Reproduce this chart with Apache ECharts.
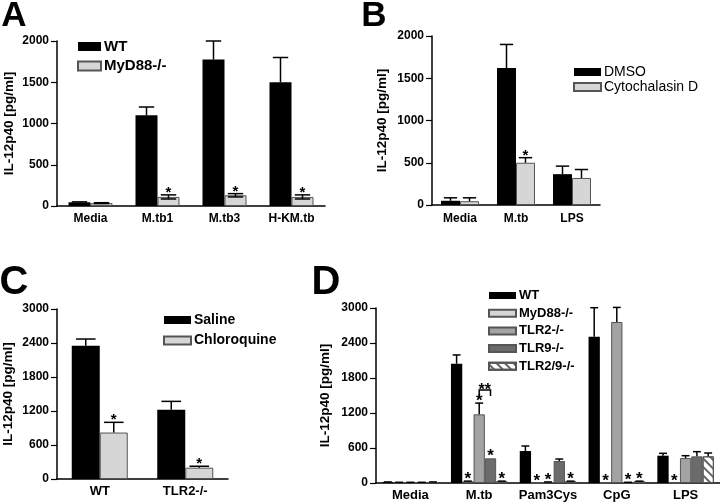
<!DOCTYPE html>
<html><head><meta charset="utf-8">
<script src="https://cdn.jsdelivr.net/npm/echarts@6/dist/echarts.min.js"></script>
<style>html,body{margin:0;padding:0;background:#fff}#c{width:720px;height:502px}</style>
</head><body><div id="c"></div><script>
// ---------- Panel A ----------
const catA = ['Media', 'M.tb1', 'M.tb3', 'H-KM.tb'];
const wtA = [45, 1100, 1775, 1500];
const wtA_err = [50, 1200, 2000, 1800];
const myA = [35, 110, 130, 110];
const myA_err = [40, 135, 150, 135];
const sigA = ['', '*', '*', '*'];
const ticksA = {min: 0, max: 2000, interval: 500};

// ---------- Panel B ----------
const catB = ['Media', 'M.tb', 'LPS'];
const dmsoB = [50, 1620, 365];
const dmsoB_err = [85, 1900, 460];
const cytoB = [45, 500, 320];
const cytoB_err = [85, 560, 420];
const sigB = ['', '*', ''];
const ticksB = {min: 0, max: 2000, interval: 500};

// ---------- Panel C ----------
const catC = ['WT', 'TLR2-/-'];
const salC = [2350, 1220];
const salC_err = [2470, 1370];
const chlC = [820, 200];
const chlC_err = [1000, 225];
const sigC = ['*', '*'];
const ticksC = {min: 0, max: 3000, interval: 600};

// ---------- Panel D ----------
const catD = ['Media', 'M.tb', 'Pam3Cys', 'CpG', 'LPS'];
const wtD = [15, 2045, 548, 2508, 468];
const wtD_err = [18, 2195, 634, 3005, 509];
const myD = [10, 30, 0, 0, 0];
const myD_err = [12, 32, 0, 0, 0];
const sigMyD = ['', '*', '*', '*', '*'];
const tlr2D = [10, 1177, 15, 2760, 428];
const tlr2D_err = [12, 1370, 18, 3010, 468];
const sigTlr2D = ['', '*', '*', '', ''];
const tlr9D = [10, 423, 377, 10, 457];
const tlr9D_err = [12, 423, 411, 12, 537];
const sigTlr9D = ['', '*', '', '*', ''];
const tlr29D = [15, 30, 30, 30, 457];
const tlr29D_err = [18, 32, 32, 32, 514];
const sigTlr29D = ['', '*', '*', '*', ''];
const bracketD = {category: 1, value: 1594, label: '**'};
const ticksD = {min: 0, max: 3000, interval: 600};

const FONT = "'Liberation Sans', Arial, sans-serif";
const BLACK = '#000000';
const LIGHT = '#d6d6d6';
const MID = '#a3a3a3';
const DARK = '#6b6b6b';

function xAx(gi, data, fs, margin) {
  return {type: 'category', gridIndex: gi, data: data,
    axisTick: {show: false},
    axisLine: {lineStyle: {color: '#000', width: 1.5}},
    axisLabel: {interval: 0, color: '#000', fontWeight: 'bold', fontSize: fs, fontFamily: FONT, margin: margin}};
}
function yAx(gi, t, gap) {
  return {type: 'value', gridIndex: gi, min: t.min, max: t.max, interval: t.interval,
    splitLine: {show: false},
    axisLine: {show: true, lineStyle: {color: '#000', width: 1.5}},
    axisTick: {show: true, length: 6, lineStyle: {color: '#000', width: 1.2}},
    axisLabel: {color: '#000', fontWeight: 'bold', fontSize: 12, fontFamily: FONT, margin: 8,
      formatter: function (v) { return String(v); }},
    name: 'IL-12p40 [pg/ml]', nameLocation: 'middle', nameGap: gap,
    nameTextStyle: {color: '#000', fontWeight: 'bold', fontSize: 13.5, fontFamily: FONT}};
}
function bar(gi, name, data, color, bw, extra) {
  const s = {type: 'bar', name: name, xAxisIndex: gi, yAxisIndex: gi, data: data,
    barWidth: bw, barGap: '0%', silent: true,
    itemStyle: {color: color, borderColor: color === BLACK ? '#000' : '#555', borderWidth: color === BLACK ? 0 : 1}};
  if (extra) Object.assign(s.itemStyle, extra);
  return s;
}
function err(gi, vals, errs, sig, k, n, bw, both, starSize) {
  return {type: 'custom', xAxisIndex: gi, yAxisIndex: gi, z: 10, silent: true,
    data: vals.map((v, i) => [i, v, errs[i]]),
    encode: {x: 0, y: [1, 2]},
    renderItem: function (params, api) {
      const i = api.value(0);
      const off = (k - (n - 1) / 2) * bw;
      const pv = api.coord([i, api.value(1)]);
      const pe = api.coord([i, api.value(2)]);
      const x = pv[0] + off;
      const cap = Math.max(3, bw * 0.35);
      const ch = [];
      const st = {stroke: '#000', lineWidth: 1.5};
      if (api.value(2) > api.value(1)) {
        let yLow = pv[1];
        if (both) {
          yLow = pv[1] + (pv[1] - pe[1]);
          ch.push({type: 'line', shape: {x1: x - cap, y1: yLow, x2: x + cap, y2: yLow}, style: st});
        }
        ch.push({type: 'line', shape: {x1: x, y1: yLow, x2: x, y2: pe[1]}, style: st});
        ch.push({type: 'line', shape: {x1: x - cap, y1: pe[1], x2: x + cap, y2: pe[1]}, style: st});
      }
      const s = sig[params.dataIndex];
      if (s) {
        ch.push({type: 'text', x: x, y: pe[1] - 2, style: {text: s, fill: '#000',
          font: 'bold ' + starSize + 'px ' + FONT, align: 'center', verticalAlign: 'middle'}});
      }
      return {type: 'group', children: ch};
    }};
}
function bracket(gi, br, k1, k2, n, bw) {
  return {type: 'custom', xAxisIndex: gi, yAxisIndex: gi, z: 11, silent: true,
    data: [[br.category, br.value]],
    renderItem: function (params, api) {
      const p = api.coord([api.value(0), api.value(1)]);
      const x1 = p[0] + (k1 - (n - 1) / 2) * bw;
      const x2 = p[0] + (k2 - (n - 1) / 2) * bw;
      return {type: 'group', children: [
        {type: 'polyline', shape: {points: [[x1, p[1] + 6], [x1, p[1]], [x2, p[1]], [x2, p[1] + 6]]},
          style: {stroke: '#000', lineWidth: 1.5, fill: null}},
        {type: 'text', x: (x1 + x2) / 2, y: p[1] + 1, style: {text: br.label, fill: '#000',
          font: 'bold 16px ' + FONT, align: 'center', verticalAlign: 'middle'}}
      ]};
    }};
}

const bwA = 22, bwB = 19, bwC = 28, bwD = 11.3;
const hatch = {symbol: 'rect', dashArrayX: [1, 0], dashArrayY: [1.5, 3.5], rotation: Math.PI / 4, color: '#666', symbolSize: 1};

const series = [
  bar(0, 'WT', wtA, BLACK, bwA),
  bar(0, 'MyD88-/-', myA, LIGHT, bwA),
  err(0, wtA, wtA_err, ['', '', '', ''], 0, 2, bwA, false, 15),
  err(0, myA, myA_err, sigA, 1, 2, bwA, true, 15),

  bar(1, 'DMSO', dmsoB, BLACK, bwB),
  bar(1, 'Cytochalasin D', cytoB, LIGHT, bwB),
  err(1, dmsoB, dmsoB_err, ['', '', ''], 0, 2, bwB, false, 15),
  err(1, cytoB, cytoB_err, sigB, 1, 2, bwB, false, 15),

  bar(2, 'Saline', salC, BLACK, bwC),
  bar(2, 'Chloroquine', chlC, LIGHT, bwC),
  err(2, salC, salC_err, ['', ''], 0, 2, bwC, false, 15),
  err(2, chlC, chlC_err, sigC, 1, 2, bwC, false, 15),

  bar(3, 'WT', wtD, BLACK, bwD),
  bar(3, 'MyD88-/-', myD, LIGHT, bwD),
  bar(3, 'TLR2-/-', tlr2D, MID, bwD),
  bar(3, 'TLR9-/-', tlr9D, DARK, bwD),
  bar(3, 'TLR2/9-/-', tlr29D, '#ffffff', bwD, {decal: hatch}),
  err(3, wtD, wtD_err, ['', '', '', '', ''], 0, 5, bwD, false, 17),
  err(3, myD, myD_err, sigMyD, 1, 5, bwD, false, 17),
  err(3, tlr2D, tlr2D_err, sigTlr2D, 2, 5, bwD, false, 17),
  err(3, tlr9D, tlr9D_err, sigTlr9D, 3, 5, bwD, false, 17),
  err(3, tlr29D, tlr29D_err, sigTlr29D, 4, 5, bwD, false, 17),
  bracket(3, bracketD, 2, 3, 5, bwD)
];

function leg(left, top, names, iw, ih, gap, fs, fw) {
  return {left: left, top: top, orient: 'vertical', padding: 0, itemWidth: iw, itemHeight: ih, itemGap: gap,
    icon: 'rect', selectedMode: false, data: names,
    textStyle: {color: '#000', fontSize: fs, fontWeight: fw, fontFamily: FONT, padding: [0, 0, 0, -2]}};
}

const option = {
  animation: false,
  backgroundColor: '#fff',
  grid: [
    {left: 57, right: 395, top: 41, bottom: 296},
    {left: 432, right: 120, top: 36, bottom: 297},
    {left: 57, right: 492, top: 309, bottom: 23},
    {left: 376, right: 0, top: 308, bottom: 18}
  ],
  xAxis: [xAx(0, catA, 12, 7), xAx(1, catB, 12, 8), xAx(2, catC, 13, 6), xAx(3, catD, 13, 6)],
  yAxis: [yAx(0, ticksA, 41), yAx(1, ticksB, 43), yAx(2, ticksC, 42), yAx(3, ticksD, 44)],
  legend: [
    leg(77, 39, ['WT', 'MyD88-/-'], 23, 9, 4.5, 15, 'bold'),
    leg(573, 65, ['DMSO', 'Cytochalasin D'], 27, 8, 1, 14, 'normal'),
    leg(163, 313, ['Saline', 'Chloroquine'], 27, 8, 6.5, 14, 'bold'),
    leg(488, 289, ['WT', 'MyD88-/-', 'TLR2-/-', 'TLR9-/-', 'TLR2/9-/-'], 27, 7, 4.7, 13, 'bold')
  ],
  graphic: [
    {type: 'text', x: 14, y: 16, style: {text: 'A', font: 'bold 35px ' + FONT, fill: '#000', align: 'center', verticalAlign: 'middle'}},
    {type: 'text', x: 374, y: 16, style: {text: 'B', font: 'bold 35px ' + FONT, fill: '#000', align: 'center', verticalAlign: 'middle'}},
    {type: 'text', x: 14, y: 283, style: {text: 'C', font: 'bold 40px ' + FONT, fill: '#000', align: 'center', verticalAlign: 'middle'}},
    {type: 'text', x: 326, y: 283, style: {text: 'D', font: 'bold 40px ' + FONT, fill: '#000', align: 'center', verticalAlign: 'middle'}}
  ],
  series: series
};
const chart = echarts.init(document.getElementById('c'), null, {renderer: 'canvas'});
chart.setOption(option);
</script></body></html>
